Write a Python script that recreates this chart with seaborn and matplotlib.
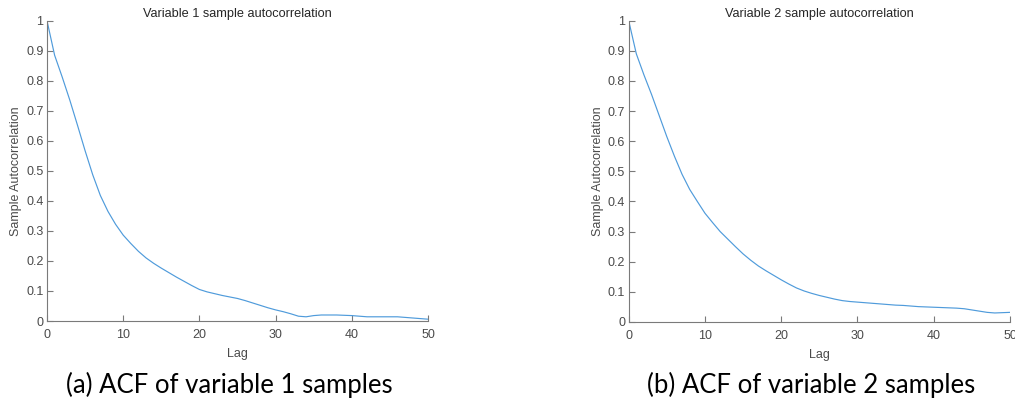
import numpy as np
import pandas as pd
import matplotlib
matplotlib.use("Agg")
import matplotlib.pyplot as plt
import seaborn as sns

# Sample autocorrelation for lags 0..50
lags = list(range(51))
acf_var1 = [1.000, 0.885, 0.812, 0.735, 0.652, 0.567, 0.487, 0.418, 0.365, 0.322,
            0.286, 0.258, 0.232, 0.210, 0.192, 0.176, 0.161, 0.146, 0.132, 0.118,
            0.105, 0.097, 0.091, 0.085, 0.080, 0.075, 0.068, 0.060, 0.052, 0.044,
            0.037, 0.031, 0.024, 0.016, 0.014, 0.018, 0.020, 0.020, 0.020, 0.019,
            0.018, 0.016, 0.014, 0.014, 0.014, 0.014, 0.014, 0.012, 0.010, 0.008,
            0.006]
acf_var2 = [1.000, 0.890, 0.820, 0.755, 0.685, 0.615, 0.550, 0.490, 0.440, 0.400,
            0.361, 0.330, 0.300, 0.275, 0.250, 0.226, 0.205, 0.186, 0.170, 0.155,
            0.140, 0.126, 0.113, 0.103, 0.095, 0.088, 0.082, 0.076, 0.071, 0.068,
            0.066, 0.064, 0.062, 0.060, 0.058, 0.056, 0.055, 0.053, 0.051, 0.050,
            0.049, 0.048, 0.047, 0.046, 0.044, 0.040, 0.036, 0.032, 0.030, 0.031,
            0.032]

titles = ["Variable 1 sample autocorrelation", "Variable 2 sample autocorrelation"]
captions = ["(a) ACF of variable 1 samples", "(b) ACF of variable 2 samples"]
x_ticks = [0, 10, 20, 30, 40, 50]
y_ticks = [0, 0.1, 0.2, 0.3, 0.4, 0.5, 0.6, 0.7, 0.8, 0.9, 1]
y_tick_labels = ["0", "0.1", "0.2", "0.3", "0.4", "0.5", "0.6", "0.7", "0.8", "0.9", "1"]

sns.set_style("ticks")
plt.rcParams["font.family"] = ["Liberation Sans", "DejaVu Sans"]

line_color = "#4f9bdb"
axis_color = "#7a7a7a"
text_color = "#4a4a4a"

fig = plt.figure(figsize=(10.15, 4.05), dpi=100)
axes_rects = [
    [47 / 1015, 84 / 405, 381 / 1015, 300.3 / 405],
    [628.7 / 1015, 83 / 405, 381.3 / 1015, 301.3 / 405],
]
caption_x = [229 / 1015, 810.7 / 1015]

for rect, series, title, caption, cx in zip(axes_rects, [acf_var1, acf_var2],
                                            titles, captions, caption_x):
    ax = fig.add_axes(rect)
    df = pd.DataFrame({"Lag": lags, "ACF": series})
    sns.lineplot(data=df, x="Lag", y="ACF", ax=ax, color=line_color, linewidth=0.85)
    ax.set_xlim(0, 50)
    ax.set_ylim(0, 1)
    ax.set_xticks(x_ticks)
    ax.set_yticks(y_ticks)
    ax.set_yticklabels(y_tick_labels)
    sns.despine(ax=ax)
    for side in ["left", "bottom"]:
        ax.spines[side].set_color(axis_color)
        ax.spines[side].set_linewidth(0.8)
    ax.tick_params(axis="both", direction="in", length=4, width=0.8,
                   color=axis_color, labelcolor=text_color, labelsize=9)
    ax.tick_params(axis="x", pad=6)
    ax.tick_params(axis="y", pad=2.5)
    ax.set_xlabel("Lag", fontsize=9, color=text_color, labelpad=4.5)
    ax.set_ylabel("Sample Autocorrelation", fontsize=9, color=text_color, labelpad=3)
    ax.set_title(title, fontsize=9.2, color="#262626", pad=3)
    fig.text(cx, 1 - 385 / 405, caption, ha="center", va="center",
             fontsize=18.5, family=["Lato", "DejaVu Sans"], color="#000000")

fig.savefig("out.png", dpi=100)
